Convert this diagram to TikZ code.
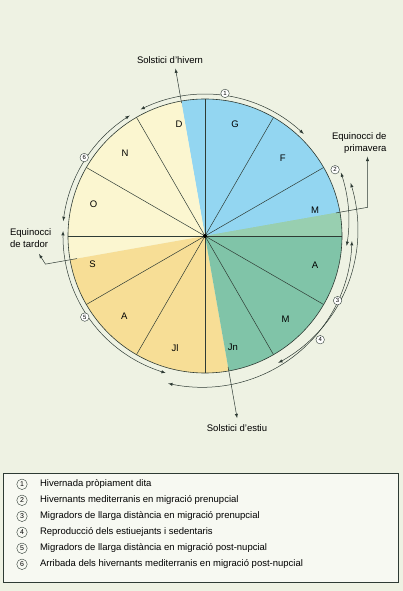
\documentclass[tikz,border=0pt]{standalone}
\usepackage{fontspec}
\setmainfont{Liberation Sans}
\definecolor{grund}{HTML}{EEF2E3}
\definecolor{blau}{HTML}{93D6F1}
\definecolor{gruen}{HTML}{80C4A8}
\definecolor{hellgruen}{HTML}{98CFB0}
\definecolor{gelb}{HTML}{F7DE96}
\definecolor{creme}{HTML}{FBF6D0}
\definecolor{linie}{HTML}{2E3B34}

\begin{document}
\begin{tikzpicture}[x=1pt, y=1pt,
    >=latex,   %Voreinstellung für Pfeilspitzen
    font=\fontsize{9.5}{11.5}\selectfont,
    nummer/.style={draw=linie, circle, fill=white, inner sep=0pt, minimum size=8.5pt, font=\fontsize{6}{6}\selectfont},
    legnummer/.style={draw=linie, circle, inner sep=0pt, minimum size=10.5pt, font=\fontsize{7}{7}\selectfont},
    periode/.style n args={4}{insert path={plot[domain=#1:#3, samples=60, smooth]
        ({(#2+(#4-#2)*(\x-(#1))/((#3)-(#1)))*cos(\x)}, {(#2+(#4-#2)*(\x-(#1))/((#3)-(#1)))*sin(\x)})}},
    ]
    %Hintergrund
    \fill[grund] (0,0) rectangle (403,591);
    \begin{scope}[shift={(205,355)}]
    %Jahreszeiten füllen
    \fill[blau] (0,0) -- (10:137) arc[start angle=10, end angle=100, radius=137] -- cycle;
    \fill[creme] (0,0) -- (100:137) arc[start angle=100, end angle=190, radius=137] -- cycle;
    \fill[gelb] (0,0) -- (190:137) arc[start angle=190, end angle=280, radius=137] -- cycle;
    \fill[gruen] (0,0) -- (-80:137) arc[start angle=-80, end angle=10, radius=137] -- cycle;
    \fill[hellgruen] (0,0) -- (0:137) arc[start angle=0, end angle=10, radius=137] -- cycle;
    %Monatsgrenzen
    \foreach \a in {0,30,...,330} \draw[linie, line width=0.5pt] (0,0) -- (\a:137);
    \draw[linie, line width=0.6pt] (0,0) circle[radius=137];
    \fill[black] (0,0) circle[radius=2];
    %Monate
    \foreach \a/\r/\m/\n in {75/116/G/mgen, 45/110/F/mfeb, 13/113/M/mmar, -15/114/A/mabr,
        -46/116/M/mmai, -76/115/Jn/mjun, -105/116/Jl/mjul, -135/114/A/mago,
        -166/116/S/mset, 164/116/O/moct, 134/115/N/mnov, 103/115/D/mdes}
        \node (\n) at (\a:\r) {\m};
    %Perioden
    \draw[<->, linie, line width=0.5pt, periode={117}{142}{46}{142}];
    \draw[<->, linie, line width=0.5pt, periode={25}{150}{-4}{142}];
    \draw[<->, linie, line width=0.5pt, periode={20}{155}{-60}{146.5}];
    \draw[<->, linie, line width=0.5pt, periode={-2}{147}{-104}{152}];
    \draw[<->, linie, line width=0.5pt, periode={-106}{142.5}{-182}{142}];
    \draw[<->, linie, line width=0.5pt, periode={174}{142.5}{122}{142}];
    \node[nummer] (n1) at (82:144) {1};
    \node[nummer] (n2) at (27:146) {2};
    \node[nummer] (n3) at (-26:147.5) {3};
    \node[nummer] (n4) at (-42:155) {4};
    \node[nummer] (n5) at (-146:145) {5};
    \node[nummer] (n6) at (147:144) {6};
    %Sonnenwenden und Tagundnachtgleichen
    \coordinate (hs1) at (100:135);
    \coordinate (hs2) at (100:170);
    \coordinate (es1) at (-80:133);
    \coordinate (es2) at (-80:185);
    \coordinate (pv1) at (10:133);
    \coordinate (pv2) at (10:165);
    \coordinate (td1) at (-170:130);
    \coordinate (td2) at (-170:162);
    \coordinate (td3) at (-166,-18);
    \end{scope}
    \node (hivern) at (170,531) {Solstici d'hivern};
    \node (estiu) at (237,163) {Solstici d'estiu};
    \node[align=right, anchor=east] (primavera) at (390,448) {Equinocci de\\primavera};
    \node[align=left, anchor=west] (tardor) at (6.5,353) {Equinocci\\de tardor};
    \draw[->, linie, line width=0.5pt] (hs1) -- (hs2);
    \draw[->, linie, line width=0.5pt] (es1) -- (es2);
    \draw[->, linie, line width=0.5pt] (pv1) -- (pv2) -- (pv2 |- primavera.south);
    \draw[->, linie, line width=0.5pt] (td1) -- (td2) -- (td3);
    %Legende
    \draw[linie, line width=0.5pt, fill=white!55!grund] (3,9) rectangle (398,118);
    \foreach \i/\t in {1/Hivernada pròpiament dita,
        2/Hivernants mediterranis en migració prenupcial,
        3/Migradors de llarga distància en migració prenupcial,
        4/Reproducció dels estiuejants i sedentaris,
        5/Migradors de llarga distància en migració post-nupcial,
        6/Arribada dels hivernants mediterranis en migració post-nupcial}
    {
        \node[legnummer] (l\i) at (22,122.7-16*\i) {\i};
        \node[anchor=west] (t\i) at (36.5,122.7-16*\i) {\t};
    }
\end{tikzpicture}
\end{document}
